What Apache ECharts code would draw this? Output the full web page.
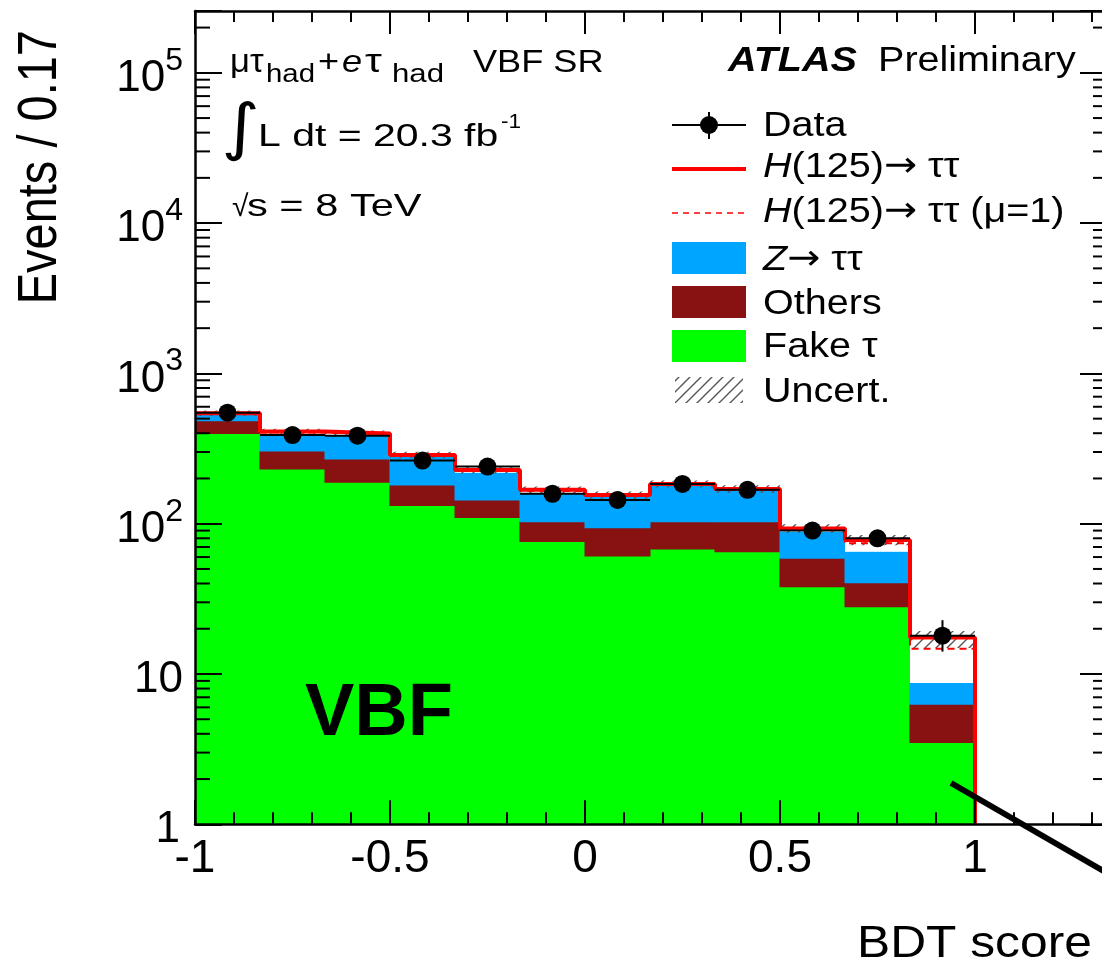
<!DOCTYPE html>
<html><head><meta charset="utf-8">
<script src="https://cdn.jsdelivr.net/npm/echarts@6/dist/echarts.min.js"></script>
<style>html,body{margin:0;padding:0;background:#fff}#c{width:1102px;height:966px}</style>
</head><body><div id="c"></div>
<script>
// ---------------- data ----------------
const binEdges = [-1, -0.8333, -0.6667, -0.5, -0.3333, -0.1667, 0, 0.1667, 0.3333, 0.5, 0.6667, 0.8333, 1];
const fakeTau  = [399, 231, 189, 132, 110, 76, 61, 68, 65, 38, 28, 3.5];
const others   = [85, 74, 80, 49, 34, 27, 33, 35, 38, 21, 12.5, 2.8];
const ztautau  = [45, 88, 116, 98, 74, 56, 57, 75, 65, 29.5, 24.5, 2.4];
const higgsFit = [14, 17, 14, 8, 10, 9, 4, 6, 2, 4.5, 13, 8.8];
const higgsMu1 = [10, 11, 10, 5, 7, 6, 3, 4, 1.5, 3, 9, 6];
const uncLow   = [520, 392, 381, 273, 216, 159, 146, 174, 160, 87, 72, 14.9];
const uncHigh  = [566, 428, 417, 301, 240, 177, 164, 194, 180, 99, 84, 19.3];
const dataVal     = [548, 389, 385, 263, 240, 158, 144, 184, 168, 90, 80, 18];
const dataErrLow  = [525, 369, 365, 247, 224, 145, 132, 170, 155, 80.5, 71, 14.1];
const dataErrHigh = [571, 409, 405, 279, 256, 171, 156, 198, 181, 99.5, 89, 22.8];
const xTickValues = [-1, -0.5, 0, 0.5, 1];
const xTickLabels = ['-1', '-0.5', '0', '0.5', '1'];
const yTickValues = [1, 10, 100, 1000, 10000, 100000];
const yTickLabels = ['1', '10', '10^2', '10^3', '10^4', '10^5'];

// ---------------- layout / style ----------------
const xMin = -1, xMax = 1.3385, yMin = 1, yMax = 257800;
const FONT = '"Liberation Sans", Arial, Helvetica, "DejaVu Sans", sans-serif';
const C_GREEN = '#00ff00', C_RED = '#881111', C_BLUE = '#00a5ff', C_H = '#ff0000';

const nb = fakeTau.length;
const cum1 = fakeTau.slice();
const cum2 = cum1.map((v, i) => v + others[i]);
const cum3 = cum2.map((v, i) => v + ztautau[i]);
const cum4 = cum3.map((v, i) => v + higgsFit[i]);
const cumMu1 = cum3.map((v, i) => v + higgsMu1[i]);
const centers = binEdges.slice(0, nb).map((e, i) => (e + binEdges[i + 1]) / 2);

// hatch pattern
const pc = document.createElement('canvas');
pc.width = 11; pc.height = 11;
(function () {
  const g = pc.getContext('2d');
  g.strokeStyle = '#555'; g.lineWidth = 1.4;
  g.beginPath();
  g.moveTo(0, 11); g.lineTo(11, 0);
  g.moveTo(-5.5, 5.5); g.lineTo(5.5, -5.5);
  g.moveTo(5.5, 16.5); g.lineTo(16.5, 5.5);
  g.stroke();
})();
const hatch = { image: pc, repeat: 'repeat' };

function rectSeries(name, lo, hi, fill, z, pad) {
  return {
    type: 'custom', name, z, animation: false, silent: true, clip: true,
    data: lo.map((l, i) => [binEdges[i], binEdges[i + 1], l, hi[i]]),
    encode: { x: [0, 1], y: [2, 3] },
    renderItem: (params, api) => {
      const p1 = api.coord([api.value(0), api.value(3)]);
      const p2 = api.coord([api.value(1), api.value(2)]);
      const e = pad || 0;
      return { type: 'rect', shape: { x: p1[0] - e, y: p1[1] - e, width: p2[0] - p1[0] + 2 * e, height: p2[1] - p1[1] + 2 * e }, style: { fill } };
    }
  };
}
function stepPoints(tops, leftEdge) {
  const pts = leftEdge ? [[binEdges[0], yMin]] : [];
  tops.forEach((t, i) => { pts.push([binEdges[i], t], [binEdges[i + 1], t]); });
  pts.push([binEdges[nb], yMin]);
  return pts;
}
// minor log ticks (2..9 x 10^k)
const yMinor = [];
for (let k = 0; k <= 5; k++) for (let m = 2; m <= 9; m++) { const v = m * Math.pow(10, k); if (v < yMax) yMinor.push([xMin, v]); }

function yFmt(v) {
  const i = yTickValues.findIndex(t => Math.abs(Math.log10(v) - Math.log10(t)) < 1e-6);
  if (i < 0) return '';
  const lab = yTickLabels[i];
  if (lab.indexOf('^') >= 0) { const p = lab.split('^'); return '{b|' + p[0] + '}{s|' + p[1] + '}'; }
  if (lab === '1') return '{one|1}';
  return '{b|' + lab + '}';
}
function xFmt(v) {
  const i = xTickValues.findIndex(t => Math.abs(v - t) < 1e-6);
  return i < 0 ? '' : xTickLabels[i];
}

// text helper: baseline-positioned text
function T(x, base, text, fs, o) {
  o = o || {};
  const fam = o.family || FONT;
  const f = (o.style || 'normal') + ' ' + (o.weight || 'normal') + ' ' + fs + 'px ' + fam;
  const el = {
    type: 'text', x: x, y: base - 0.31 * fs, scaleX: o.sx == null ? 1.13 : o.sx, z: 100,
    style: { text: text, font: f, fill: '#000', align: 'left', verticalAlign: 'middle' }
  };
  if (o.rich) { el.style.rich = o.rich; }
  return el;
}
const italicRich = {
  i: { font: 'italic normal 35px ' + FONT },
  a: { font: 'normal normal 35px "DejaVu Sans", sans-serif' }
};

const graphics = [
  // annotations top-left
  T(230, 73, 'μτ', 33, { sx: 1.05 }),
  T(266, 83, 'had', 26),
  T(318, 73, '+', 32),
  T(342, 73, 'e', 32, { style: 'italic' }),
  T(365, 73, 'τ', 34, { sx: 1.25 }),
  T(392, 83, 'had', 26, { sx: 1.2 }),
  T(473, 73, 'VBF SR', 32),
  T(221, 151, '∫', 62, { sx: 1.2, family: '"DejaVu Sans", sans-serif' }),
  T(258, 147, 'L dt = 20.3 fb', 32, { sx: 1.28 }),
  T(501, 129, '-1', 20),
  T(232, 217, '√', 30, { sx: 1.0 }),
  T(247, 217, 's = 8 TeV', 32, { sx: 1.3 }),
  // ATLAS label
  T(728, 72, 'ATLAS', 35, { style: 'italic', weight: 'bold' }),
  T(878, 72, 'Preliminary', 35),
  // legend texts
  T(763, 137, 'Data', 35),
  T(763, 178, '{i|H}(125){a|→} ττ', 35, { rich: italicRich }),
  T(763, 223, '{i|H}(125){a|→} ττ (μ=1)', 35, { rich: italicRich }),
  T(763, 271, '{i|Z}{a|→} ττ', 35, { rich: italicRich }),
  T(763, 315, 'Others', 35),
  T(763, 358, 'Fake τ', 35),
  T(763, 403, 'Uncert.', 35),
  // legend symbols
  { type: 'line', z: 100, shape: { x1: 672, y1: 125, x2: 746, y2: 125 }, style: { stroke: '#000', lineWidth: 2 } },
  { type: 'line', z: 100, shape: { x1: 709, y1: 112, x2: 709, y2: 139 }, style: { stroke: '#000', lineWidth: 2 } },
  { type: 'circle', z: 101, shape: { cx: 709, cy: 125, r: 9 }, style: { fill: '#000' } },
  { type: 'line', z: 100, shape: { x1: 672, y1: 169, x2: 746, y2: 169 }, style: { stroke: C_H, lineWidth: 4 } },
  { type: 'line', z: 100, shape: { x1: 672, y1: 213, x2: 746, y2: 213 }, style: { stroke: C_H, lineWidth: 1.5, lineDash: [6, 5] } },
  { type: 'rect', z: 100, shape: { x: 672, y: 242, width: 74, height: 32 }, style: { fill: C_BLUE } },
  { type: 'rect', z: 100, shape: { x: 672, y: 286, width: 74, height: 32 }, style: { fill: C_RED } },
  { type: 'rect', z: 100, shape: { x: 672, y: 330, width: 74, height: 32 }, style: { fill: C_GREEN } },
  { type: 'rect', z: 100, shape: { x: 675, y: 377, width: 68, height: 26 }, style: { fill: hatch } },
  // big VBF label
  T(305, 738, 'VBF', 74, { weight: 'bold', sx: 1.0 }),
  // axis titles
  { type: 'text', x: 41, y: 30, rotation: Math.PI / 2, scaleY: 1.18, z: 100,
    style: { text: 'Events / 0.17', font: 'normal normal 47px ' + FONT, fill: '#000', align: 'right', verticalAlign: 'middle' } },
  T(857, 958, 'BDT score', 44),
  // annotation stroke
  { type: 'line', z: 100, shape: { x1: 951, y1: 783, x2: 1160, y2: 903.6 }, style: { stroke: '#000', lineWidth: 6 } }
];

const axisCommon = {
  axisLine: { show: true, onZero: false, lineStyle: { color: '#000', width: 2.5 } },
  splitLine: { show: false },
  z: 10
};

const option = {
  animation: false,
  backgroundColor: '#fff',
  grid: { left: 195, top: 11, width: 912, height: 813.3, containLabel: false, outerBoundsMode: 'none' },
  xAxis: [
    Object.assign({}, axisCommon, {
      type: 'value', position: 'bottom', min: xMin, max: xMax, interval: 0.5,
      axisTick: { show: true, inside: true, length: 24, lineStyle: { color: '#000', width: 2 } },
      minorTick: { show: true, splitNumber: 5, length: 12, lineStyle: { color: '#000', width: 2 } },
      axisLabel: { show: true, formatter: xFmt, fontSize: 46, fontFamily: FONT, color: '#000', margin: 12, showMinLabel: true, showMaxLabel: true }
    }),
    Object.assign({}, axisCommon, {
      type: 'value', position: 'top', min: xMin, max: xMax, interval: 0.5,
      axisTick: { show: true, inside: true, length: 23, lineStyle: { color: '#000', width: 2 } },
      minorTick: { show: true, splitNumber: 5, length: 11, lineStyle: { color: '#000', width: 2 } },
      axisLabel: { show: false }
    })
  ],
  yAxis: [
    Object.assign({}, axisCommon, {
      type: 'log', logBase: 10, position: 'left', min: yMin, max: yMax,
      axisTick: { show: true, inside: true, length: 27, lineStyle: { color: '#000', width: 2 } },
      axisLabel: {
        show: true, formatter: yFmt, margin: 12, color: '#000',
        rich: {
          b: { fontSize: 44, fontFamily: FONT, color: '#000', padding: [12, 0, 0, 0] },
          s: { fontSize: 32, fontFamily: FONT, color: '#000', verticalAlign: 'top', padding: [0, 0, 0, 0] },
          one: { fontSize: 44, fontFamily: FONT, color: '#000', padding: [12, 3, 0, 0] }
        }
      }
    }),
    Object.assign({}, axisCommon, {
      type: 'log', logBase: 10, position: 'right', min: yMin, max: yMax,
      axisTick: { show: true, inside: true, length: 27, lineStyle: { color: '#000', width: 2 } },
      axisLabel: { show: false }
    })
  ],
  series: [
    rectSeries('Fake τ', fakeTau.map(() => yMin), cum1, C_GREEN, 2, 0.5),
    rectSeries('Others', cum1, cum2, C_RED, 2, 0.5),
    rectSeries('Z→ττ', cum2, cum3, C_BLUE, 2, 0.5),
    rectSeries('H fit', cum3, cum4, '#ffffff', 2, 0),
    rectSeries('Uncert.', uncLow, uncHigh, hatch, 3, 0),
    { type: 'line', name: 'H(125) mu=1', data: stepPoints(cumMu1, false), symbol: 'none', z: 4, animation: false, silent: true,
      lineStyle: { color: C_H, width: 2, type: [7, 5] } },
    { type: 'line', name: 'H(125)', data: stepPoints(cum4, false), symbol: 'none', z: 5, animation: false, silent: true,
      lineStyle: { color: C_H, width: 4 } },
    { type: 'custom', name: 'Data err', z: 6, animation: false, silent: true,
      data: centers.map((c, i) => [c, dataVal[i], binEdges[i], binEdges[i + 1], dataErrLow[i], dataErrHigh[i]]),
      encode: { x: 0, y: 1 },
      renderItem: (params, api) => {
        const a = api.coord([api.value(2), api.value(1)]);
        const b = api.coord([api.value(3), api.value(1)]);
        const lo = api.coord([api.value(0), api.value(4)]);
        const hi = api.coord([api.value(0), api.value(5)]);
        return { type: 'group', children: [
          { type: 'line', shape: { x1: a[0], y1: a[1], x2: b[0], y2: b[1] }, style: { stroke: '#000', lineWidth: 2 } },
          { type: 'line', shape: { x1: lo[0], y1: lo[1], x2: hi[0], y2: hi[1] }, style: { stroke: '#000', lineWidth: 2 } }
        ] };
      } },
    { type: 'scatter', name: 'Data', z: 7, animation: false, silent: true,
      data: centers.map((c, i) => [c, dataVal[i]]), symbol: 'circle', symbolSize: 18, itemStyle: { color: '#000', opacity: 1 } },
    { type: 'custom', name: 'minor y ticks', z: 11, animation: false, silent: true, clip: false,
      data: yMinor, encode: { x: 0, y: 1 },
      renderItem: (params, api) => {
        const l = api.coord([xMin, api.value(1)]);
        const r = api.coord([xMax, api.value(1)]);
        return { type: 'group', children: [
          { type: 'line', shape: { x1: l[0], y1: l[1], x2: l[0] + 15, y2: l[1] }, style: { stroke: '#000', lineWidth: 2 } },
          { type: 'line', shape: { x1: r[0] - 14, y1: r[1], x2: r[0], y2: r[1] }, style: { stroke: '#000', lineWidth: 2 } }
        ] };
      } }
  ],
  graphic: graphics
};

const chart = echarts.init(document.getElementById('c'), null, { renderer: 'canvas' });
chart.setOption(option);
</script>
</body></html>
